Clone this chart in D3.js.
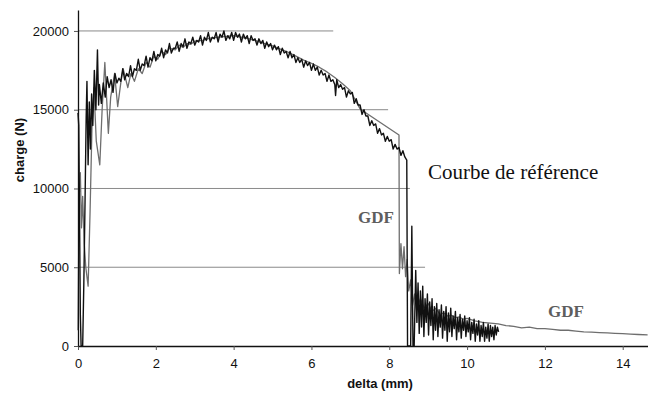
<!DOCTYPE html>
<html>
<head>
<meta charset="utf-8">
<script src="https://cdn.jsdelivr.net/npm/d3@7"></script>
<style>
  body { margin: 0; background: #fff; }
  svg { display: block; }
</style>
</head>
<body>
<svg width="648" height="394"></svg>
<script>
// tick values
const xTicks = [0, 2, 4, 6, 8, 10, 12, 14];
const yTicks = [0, 5000, 10000, 15000, 20000];
// the horizontal guide lines stop at different delta values in the original
const gridLevels = [5000, 10000, 15000, 20000];
const gridEnds = [8.92, 8.53, 7.97, 6.56];

// courbe de référence : delta (mm), charge (N)
const refCurve = [
  [0.00, 14800], [0.02, 14000], [0.04, 8000], [0.06, 2000], [0.08, 0], [0.12, 0],
  [0.15, 4000], [0.18, 9000], [0.21, 14500], [0.23, 16800], [0.26, 11500], [0.29, 15500],
  [0.32, 12500], [0.35, 16000], [0.38, 14000], [0.42, 17500], [0.46, 15000], [0.50, 18800],
  [0.53, 15300], [0.55, 16600], [0.60, 15400], [0.65, 16700], [0.70, 15800], [0.75, 17100],
  [0.80, 16400], [0.85, 16900], [0.90, 16100], [0.95, 17300], [1.00, 16700], [1.05, 17000],
  [1.10, 16800], [1.15, 17600], [1.20, 16900], [1.25, 17300], [1.30, 17100], [1.35, 17800],
  [1.40, 17100], [1.45, 17600], [1.50, 17500], [1.55, 18200], [1.60, 17500], [1.65, 17900],
  [1.70, 17800], [1.75, 18400], [1.80, 17700], [1.85, 18300], [1.90, 18100], [1.95, 18700],
  [2.00, 18100], [2.05, 18500], [2.10, 18400], [2.15, 18900], [2.20, 18300], [2.25, 18800],
  [2.30, 18600], [2.35, 19200], [2.40, 18600], [2.45, 18900], [2.50, 18900], [2.55, 19300],
  [2.60, 18700], [2.65, 19200], [2.70, 19000], [2.75, 19500], [2.80, 18900], [2.85, 19300],
  [2.90, 19200], [2.95, 19600], [3.00, 19100], [3.05, 19400], [3.10, 19300], [3.15, 19700],
  [3.20, 19100], [3.25, 19600], [3.30, 19400], [3.35, 19900], [3.40, 19300], [3.45, 19600],
  [3.50, 19500], [3.55, 19900], [3.60, 19300], [3.65, 19800], [3.70, 19600], [3.75, 20000],
  [3.80, 19400], [3.85, 19700], [3.90, 19500], [3.95, 19900], [4.00, 19400], [4.05, 19900],
  [4.10, 19600], [4.15, 19800], [4.20, 19300], [4.25, 19800], [4.30, 19500], [4.35, 19700],
  [4.40, 19200], [4.45, 19700], [4.50, 19400], [4.55, 19500], [4.60, 19100], [4.65, 19500],
  [4.70, 19200], [4.75, 19400], [4.80, 18900], [4.85, 19300], [4.90, 19000], [4.95, 19200],
  [5.00, 18800], [5.05, 19100], [5.10, 18800], [5.15, 19000], [5.20, 18500], [5.25, 18900],
  [5.30, 18600], [5.35, 18700], [5.40, 18300], [5.45, 18700], [5.50, 18300], [5.55, 18500],
  [5.60, 18000], [5.65, 18300], [5.70, 18000], [5.75, 18200], [5.80, 17700], [5.85, 18100],
  [5.90, 17800], [5.95, 18000], [6.00, 17500], [6.05, 17900], [6.10, 17500], [6.15, 17700],
  [6.20, 17200], [6.25, 17500], [6.30, 17200], [6.35, 17300], [6.40, 16800], [6.45, 17200],
  [6.50, 16800], [6.55, 16900], [6.60, 16600], [6.62, 15900], [6.65, 16900], [6.70, 16400],
  [6.75, 16600], [6.80, 16300], [6.85, 16400], [6.90, 15800], [6.95, 16200], [7.00, 16000],
  [7.05, 16100], [7.10, 15400], [7.15, 15700], [7.20, 15300], [7.25, 15300], [7.30, 14700],
  [7.35, 15000], [7.40, 14600], [7.45, 14600], [7.50, 14000], [7.55, 14300], [7.60, 14000],
  [7.65, 14100], [7.70, 13500], [7.75, 13800], [7.80, 13400], [7.85, 13500], [7.90, 13000],
  [7.95, 13300], [8.00, 13000], [8.05, 13100], [8.10, 12500], [8.15, 12800], [8.20, 12500],
  [8.25, 12600], [8.30, 12100], [8.35, 12400], [8.40, 12000], [8.45, 11800], [8.47, 0],
  [8.55, 0], [8.58, 7600], [8.61, 0], [8.64, 0], [8.68, 4800], [8.71, 1500],
  [8.74, 4000], [8.77, 800], [8.80, 3500], [8.83, 1200], [8.86, 3800], [8.89, 600],
  [8.92, 3000], [8.95, 1500], [8.98, 3300], [9.01, 700], [9.04, 2800], [9.07, 1300],
  [9.10, 3000], [9.13, 400], [9.16, 2500], [9.19, 1000], [9.22, 2700], [9.25, 600],
  [9.28, 2300], [9.31, 1200], [9.34, 2600], [9.37, 500], [9.40, 2200], [9.43, 1000],
  [9.46, 2500], [9.49, 300], [9.52, 2100], [9.55, 900], [9.58, 2400], [9.61, 600],
  [9.64, 1900], [9.67, 1100], [9.70, 2200], [9.73, 400], [9.76, 1800], [9.79, 900],
  [9.82, 2000], [9.85, 500], [9.88, 1700], [9.91, 1000], [9.94, 1900], [9.97, 600],
  [10.00, 1600], [10.03, 900], [10.06, 1800], [10.09, 400], [10.12, 1500], [10.15, 800],
  [10.18, 1700], [10.21, 300], [10.24, 1400], [10.27, 700], [10.30, 1600], [10.33, 300],
  [10.36, 1300], [10.39, 600], [10.42, 1500], [10.45, 300], [10.48, 1200], [10.51, 500],
  [10.54, 1400], [10.57, 300], [10.60, 1300], [10.63, 600], [10.66, 1200], [10.69, 400],
  [10.72, 1300], [10.75, 700], [10.78, 1200], [10.81, 900]
];

// GDF : delta (mm), charge (N)
const gdfCurve = [
  [0.00, 1000], [0.03, 9500], [0.06, 11000], [0.09, 7500], [0.12, 9500], [0.16, 6500],
  [0.20, 5000], [0.26, 3800], [0.31, 8500], [0.36, 14000], [0.41, 16400], [0.47, 13000],
  [0.56, 11500], [0.62, 15000], [0.69, 18000], [0.74, 15500], [0.78, 13500], [0.84, 15800],
  [0.94, 17300], [1.02, 15200], [1.10, 16700], [1.16, 17600], [1.28, 16400], [1.36, 17300],
  [1.45, 16800], [1.55, 17600], [1.65, 17300], [1.75, 18000], [1.85, 17700], [1.95, 18400],
  [2.05, 18200], [2.15, 18700], [2.25, 18500], [2.35, 18900], [2.50, 18800], [2.60, 19100],
  [2.70, 18950], [2.80, 19200], [2.90, 19150], [3.00, 19350], [3.20, 19400], [3.40, 19550],
  [3.60, 19600], [3.80, 19650], [4.00, 19700], [4.20, 19600], [4.40, 19500], [4.60, 19350],
  [4.80, 19200], [5.00, 19050], [5.20, 18850], [5.40, 18650], [5.60, 18400], [5.80, 18150],
  [6.00, 17950], [6.20, 17700], [6.40, 17400], [6.60, 17050], [6.80, 16650], [7.00, 16200],
  [7.25, 15050], [8.25, 13400], [8.26, 4600], [8.30, 6500], [8.34, 4900], [8.38, 6300],
  [8.42, 4400], [8.46, 5500], [8.50, 3500], [8.55, 4200], [8.60, 2600], [8.65, 3300],
  [8.70, 2300], [8.80, 3000], [8.90, 2400], [9.00, 2700], [9.10, 2200], [9.20, 2400],
  [9.30, 2000], [9.40, 2100], [9.50, 1900], [9.60, 1950], [9.70, 1800], [9.80, 1850],
  [9.90, 1700], [10.00, 1750], [10.20, 1600], [10.40, 1500], [10.60, 1450], [10.80, 1400],
  [11.00, 1300], [11.20, 1250], [11.40, 1150], [11.60, 1200], [11.80, 1100], [12.00, 1100],
  [12.20, 1050], [12.40, 1000], [12.60, 1000], [12.80, 950], [13.00, 900], [13.20, 880],
  [13.40, 850], [13.60, 830], [13.80, 800], [14.00, 780], [14.20, 760], [14.40, 730],
  [14.64, 700]
];

const svg = d3.select("svg");
const sans = "'Liberation Sans', Arial, sans-serif";
const serif = "'Liberation Serif', 'Times New Roman', serif";

const x = d3.scaleLinear().domain([0, 14.65]).range([78, 648]);
const y = d3.scaleLinear().domain([0, 21330]).range([346, 10]);

// guide lines
svg.append("g")
  .selectAll("line")
  .data(gridLevels)
  .join("line")
  .attr("x1", x(0))
  .attr("x2", (d, i) => x(gridEnds[i]))
  .attr("y1", d => y(d))
  .attr("y2", d => y(d))
  .attr("stroke", "#8a8a8a")
  .attr("stroke-width", 1);

const line = d3.line().x(d => x(d[0])).y(d => y(d[1]));

svg.append("path")
  .datum(gdfCurve)
  .attr("d", line)
  .attr("fill", "none")
  .attr("stroke", "#6e6e6e")
  .attr("stroke-width", 1.3)
  .attr("stroke-linejoin", "round");

svg.append("path")
  .datum(refCurve)
  .attr("d", line)
  .attr("fill", "none")
  .attr("stroke", "#111")
  .attr("stroke-width", 1.4)
  .attr("stroke-linejoin", "round");

// axes
const xAxis = d3.axisBottom(x).tickValues(xTicks).tickSize(4).tickSizeOuter(0);
const gx = svg.append("g")
  .attr("transform", `translate(0, ${y(0)})`)
  .call(xAxis);
gx.select(".domain").attr("stroke", "#111").attr("stroke-width", 1.3);
gx.selectAll(".tick line").attr("stroke", "#555");
gx.selectAll(".tick text")
  .attr("y", 13)
  .attr("font-family", sans)
  .attr("font-size", 13)
  .attr("fill", "#111");

const yAxis = d3.axisLeft(y).tickValues(yTicks).tickFormat(d3.format("d"))
  .tickSize(4).tickSizeOuter(0);
const gy = svg.append("g")
  .attr("transform", `translate(${x(0)}, 0)`)
  .call(yAxis);
gy.select(".domain").attr("stroke", "#111").attr("stroke-width", 1.3);
gy.selectAll(".tick line").attr("stroke", "#555");
gy.selectAll(".tick text")
  .attr("x", -9)
  .attr("font-family", sans)
  .attr("font-size", 13)
  .attr("fill", "#111");

// axis titles
svg.append("text")
  .attr("x", 380)
  .attr("y", 388)
  .attr("text-anchor", "middle")
  .attr("font-family", sans)
  .attr("font-weight", "bold")
  .attr("font-size", 13)
  .attr("fill", "#111")
  .text("delta (mm)");

svg.append("text")
  .attr("transform", "translate(24, 150) rotate(-90)")
  .attr("text-anchor", "middle")
  .attr("font-family", sans)
  .attr("font-weight", "bold")
  .attr("font-size", 13)
  .attr("fill", "#111")
  .text("charge (N)");

// annotations
svg.append("text")
  .attr("x", 428)
  .attr("y", 179)
  .attr("font-family", serif)
  .attr("font-size", 21)
  .attr("fill", "#111")
  .text("Courbe de référence");

svg.selectAll("text.gdf")
  .data([[358, 223], [548, 317]])
  .join("text")
  .attr("class", "gdf")
  .attr("x", d => d[0])
  .attr("y", d => d[1])
  .attr("font-family", serif)
  .attr("font-weight", "bold")
  .attr("font-size", 17)
  .attr("fill", "#5e5e5e")
  .text("GDF");
</script>
</body>
</html>
